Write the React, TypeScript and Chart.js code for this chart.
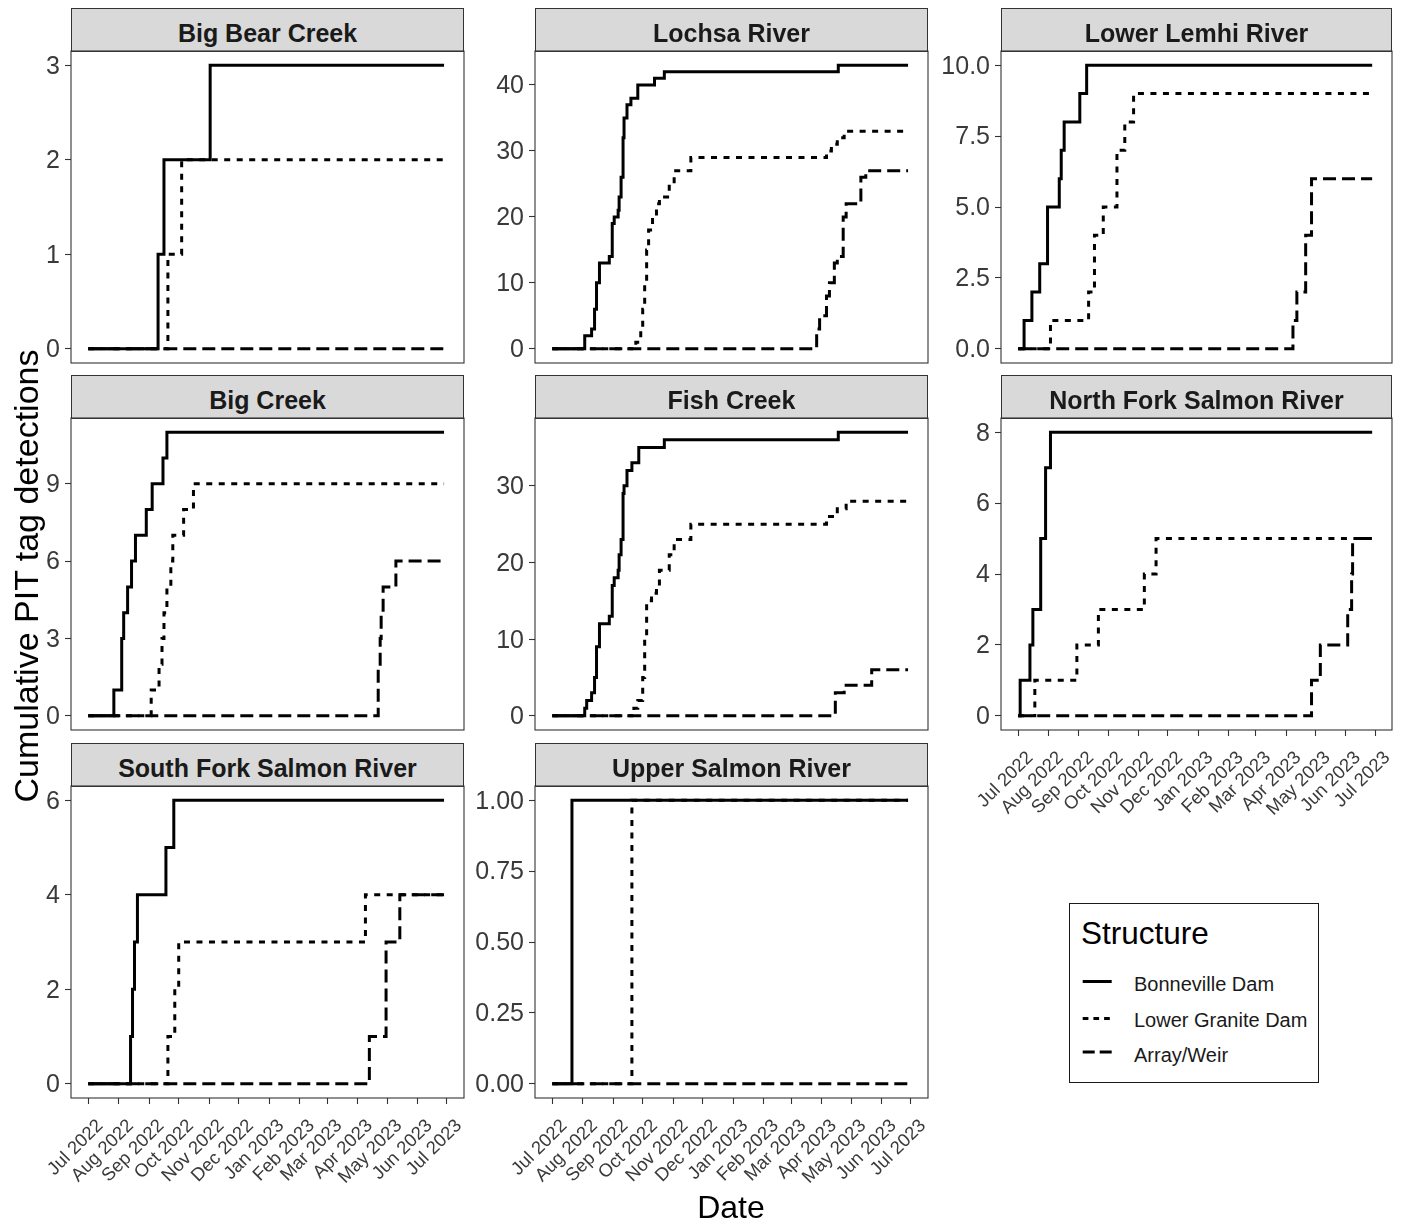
import React, { useEffect, useRef } from "react";
import { Chart, registerables } from "chart.js";

Chart.register(...registerables);

type Pt = [number, number];

const FONT = '"Liberation Sans", Arial, Helvetica, sans-serif';

// ---- X axis (days since 1 Jul 2022) ----
const MONTH_DAYS = [0, 31, 62, 92, 123, 153, 184, 215, 243, 274, 304, 335, 365];
const MONTH_LABELS = [
  "Jul 2022", "Aug 2022", "Sep 2022", "Oct 2022", "Nov 2022", "Dec 2022",
  "Jan 2023", "Feb 2023", "Mar 2023", "Apr 2023", "May 2023", "Jun 2023", "Jul 2023",
];
const X_MIN = -17.6;
const X_MAX = 382.3;

const SERIES_NAMES = ["Bonneville Dam", "Lower Granite Dam", "Array/Weir"];

// ---- Data: [day, cumulative detections] ----
const BIG_BEAR_BON: Pt[] = [[0, 0], [71, 1], [77, 2], [124, 3], [362, 3]];
const BIG_BEAR_LGR: Pt[] = [[0, 0], [81, 1], [95, 2], [362, 2]];
const BIG_BEAR_ARR: Pt[] = [[0, 0], [362, 0]];

const LOCHSA_BON: Pt[] = [[0, 0], [33, 2], [40, 3], [43, 6], [45, 10], [48, 13], [58, 14], [61, 19], [63, 20], [67, 21], [68, 23], [70, 26], [72, 32], [73, 35], [76, 37], [80, 38], [87, 40], [104, 41], [114, 42], [291, 43], [362, 43]];
const LOCHSA_LGR: Pt[] = [[0, 0], [85, 1], [90, 3], [92, 6], [94, 10], [96, 15], [98, 18], [102, 20], [106, 22], [109, 23], [119, 25], [124, 27], [141, 29], [279, 30], [284, 31], [290, 32], [297, 33], [362, 33]];
const LOCHSA_ARR: Pt[] = [[0, 0], [269, 3], [272, 5], [279, 8], [282, 10], [287, 13], [290, 14], [296, 20], [299, 22], [314, 26], [319, 27], [362, 27]];

const LEMHI_BON: Pt[] = [[0, 0], [6, 1], [14, 2], [22, 3], [30, 5], [42, 6], [44, 7], [47, 8], [63, 9], [70, 10], [362, 10]];
const LEMHI_LGR: Pt[] = [[0, 0], [33, 1], [72, 2], [78, 4], [87, 5], [101, 7], [109, 8], [118, 9], [362, 9]];
const LEMHI_ARR: Pt[] = [[0, 0], [281, 1], [285, 2], [294, 4], [300, 6], [362, 6]];

const BIG_CREEK_BON: Pt[] = [[0, 0], [26, 1], [34, 3], [36, 4], [40, 5], [44, 6], [48, 7], [59, 8], [65, 9], [76, 10], [80, 11], [362, 11]];
const BIG_CREEK_LGR: Pt[] = [[0, 0], [64, 1], [72, 2], [75, 3], [77, 4], [80, 5], [84, 6], [86, 7], [97, 8], [107, 9], [362, 9]];
const BIG_CREEK_ARR: Pt[] = [[0, 0], [295, 2], [297, 3], [298, 4], [300, 5], [313, 6], [362, 6]];

const FISH_BON: Pt[] = [[0, 0], [33, 1], [35, 2], [40, 3], [43, 5], [45, 9], [48, 12], [58, 13], [61, 17], [63, 18], [67, 19], [68, 21], [70, 23], [72, 29], [73, 30], [76, 32], [81, 33], [88, 35], [114, 36], [291, 37], [362, 37]];
const FISH_LGR: Pt[] = [[0, 0], [83, 1], [87, 2], [92, 5], [94, 10], [96, 15], [101, 16], [106, 17], [109, 19], [119, 21], [124, 23], [141, 25], [279, 26], [290, 27], [299, 28], [362, 28]];
const FISH_ARR: Pt[] = [[0, 0], [288, 3], [297, 4], [325, 6], [362, 6]];

const NORTH_FORK_BON: Pt[] = [[0, 0], [2, 1], [12, 2], [15, 3], [23, 5], [28, 7], [33, 8], [362, 8]];
const NORTH_FORK_LGR: Pt[] = [[0, 0], [17, 1], [60, 2], [82, 3], [129, 4], [141, 5], [362, 5]];
const NORTH_FORK_ARR: Pt[] = [[0, 0], [300, 1], [309, 2], [337, 3], [341, 4], [342, 5], [362, 5]];

const SOUTH_FORK_BON: Pt[] = [[0, 0], [43, 1], [45, 2], [47, 3], [50, 4], [79, 5], [87, 6], [362, 6]];
const SOUTH_FORK_LGR: Pt[] = [[0, 0], [81, 1], [88, 2], [92, 3], [282, 4], [362, 4]];
const SOUTH_FORK_ARR: Pt[] = [[0, 0], [286, 1], [303, 3], [317, 4], [362, 4]];

const UPPER_SALMON_BON: Pt[] = [[0, 0], [20, 1], [362, 1]];
const UPPER_SALMON_LGR: Pt[] = [[0, 0], [81, 1], [362, 1]];
const UPPER_SALMON_ARR: Pt[] = [[0, 0], [362, 0]];

// ---- Y ticks ----
const BIG_BEAR_Y_TICKS = [0, 1, 2, 3];
const BIG_BEAR_Y_LABELS = ["0", "1", "2", "3"];
const LOCHSA_Y_TICKS = [0, 10, 20, 30, 40];
const LOCHSA_Y_LABELS = ["0", "10", "20", "30", "40"];
const LEMHI_Y_TICKS = [0, 2.5, 5, 7.5, 10];
const LEMHI_Y_LABELS = ["0.0", "2.5", "5.0", "7.5", "10.0"];
const BIG_CREEK_Y_TICKS = [0, 3, 6, 9];
const BIG_CREEK_Y_LABELS = ["0", "3", "6", "9"];
const FISH_Y_TICKS = [0, 10, 20, 30];
const FISH_Y_LABELS = ["0", "10", "20", "30"];
const NORTH_FORK_Y_TICKS = [0, 2, 4, 6, 8];
const NORTH_FORK_Y_LABELS = ["0", "2", "4", "6", "8"];
const SOUTH_FORK_Y_TICKS = [0, 2, 4, 6];
const SOUTH_FORK_Y_LABELS = ["0", "2", "4", "6"];
const UPPER_SALMON_Y_TICKS = [0, 0.25, 0.5, 0.75, 1];
const UPPER_SALMON_Y_LABELS = ["0.00", "0.25", "0.50", "0.75", "1.00"];

interface PanelDef {
  title: string;
  row: number;
  col: number;
  series: Pt[][];
  yTicks: number[];
  yLabels: string[];
  showX: boolean;
}

const PANELS: PanelDef[] = [
  { title: "Big Bear Creek", row: 0, col: 0, series: [BIG_BEAR_BON, BIG_BEAR_LGR, BIG_BEAR_ARR], yTicks: BIG_BEAR_Y_TICKS, yLabels: BIG_BEAR_Y_LABELS, showX: false },
  { title: "Lochsa River", row: 0, col: 1, series: [LOCHSA_BON, LOCHSA_LGR, LOCHSA_ARR], yTicks: LOCHSA_Y_TICKS, yLabels: LOCHSA_Y_LABELS, showX: false },
  { title: "Lower Lemhi River", row: 0, col: 2, series: [LEMHI_BON, LEMHI_LGR, LEMHI_ARR], yTicks: LEMHI_Y_TICKS, yLabels: LEMHI_Y_LABELS, showX: false },
  { title: "Big Creek", row: 1, col: 0, series: [BIG_CREEK_BON, BIG_CREEK_LGR, BIG_CREEK_ARR], yTicks: BIG_CREEK_Y_TICKS, yLabels: BIG_CREEK_Y_LABELS, showX: false },
  { title: "Fish Creek", row: 1, col: 1, series: [FISH_BON, FISH_LGR, FISH_ARR], yTicks: FISH_Y_TICKS, yLabels: FISH_Y_LABELS, showX: false },
  { title: "North Fork Salmon River", row: 1, col: 2, series: [NORTH_FORK_BON, NORTH_FORK_LGR, NORTH_FORK_ARR], yTicks: NORTH_FORK_Y_TICKS, yLabels: NORTH_FORK_Y_LABELS, showX: true },
  { title: "South Fork Salmon River", row: 2, col: 0, series: [SOUTH_FORK_BON, SOUTH_FORK_LGR, SOUTH_FORK_ARR], yTicks: SOUTH_FORK_Y_TICKS, yLabels: SOUTH_FORK_Y_LABELS, showX: true },
  { title: "Upper Salmon River", row: 2, col: 1, series: [UPPER_SALMON_BON, UPPER_SALMON_LGR, UPPER_SALMON_ARR], yTicks: UPPER_SALMON_Y_TICKS, yLabels: UPPER_SALMON_Y_LABELS, showX: true },
];

// ---- Layout ----
const COL_LEFT = [71, 535, 1001];
const COL_W = [393, 393, 391];
const ROW_TOP = [51, 418, 786];
const PLOT_H = 312;
const STRIP_H = 43;
const YW = 72;
const XH = 100;
const PAD_TOP = 1;
const PAD_RIGHT = 14;
const PAD_BOTTOM = 1;
const TICK_TEXT = "#3a3a3a";

const DASHES: number[][] = [[], [6, 6.5], [13, 6]];

const borderPlugin = {
  id: "panelBorder",
  afterDraw(chart: any) {
    const { ctx, chartArea } = chart;
    ctx.save();
    ctx.strokeStyle = "#333333";
    ctx.lineWidth = 1.1;
    ctx.setLineDash([]);
    ctx.strokeRect(chartArea.left, chartArea.top, chartArea.right - chartArea.left, chartArea.bottom - chartArea.top);
    ctx.restore();
  },
};

function Panel({ p }: { p: PanelDef }) {
  const ref = useRef<HTMLCanvasElement | null>(null);
  const plotLeft = COL_LEFT[p.col];
  const plotTop = ROW_TOP[p.row];
  const w = COL_W[p.col];
  const xh = p.showX ? XH : 0;
  const cw = YW + w + PAD_RIGHT;
  const ch = PAD_TOP + PLOT_H + xh + PAD_BOTTOM;

  useEffect(() => {
    if (!ref.current) return;
    let maxV = 0;
    p.series.forEach((s) => s.forEach(([, y]) => { if (y > maxV) maxV = y; }));
    const yMin = -0.05 * maxV;
    const yMax = maxV * 1.05;
    const tickGrid = {
      display: true,
      drawOnChartArea: false,
      drawTicks: true,
      tickLength: 6,
      tickWidth: 1.1,
      tickColor: "#333333",
    };
    const chart = new Chart(ref.current, {
      type: "line",
      data: {
        datasets: p.series.map((s, i) => ({
          label: SERIES_NAMES[i],
          data: s.map(([x, y]) => ({ x, y })),
          stepped: true,
          borderColor: "#000000",
          backgroundColor: "#000000",
          borderWidth: 3,
          borderDash: DASHES[i],
          borderCapStyle: "butt",
          pointRadius: 0,
          fill: false,
          tension: 0,
        })),
      },
      options: {
        responsive: false,
        animation: false,
        events: [],
        layout: { autoPadding: false, padding: { top: PAD_TOP, right: PAD_RIGHT, bottom: PAD_BOTTOM, left: 0 } },
        plugins: { legend: { display: false }, tooltip: { enabled: false } },
        scales: {
          x: {
            type: "linear",
            min: X_MIN,
            max: X_MAX,
            display: p.showX,
            afterBuildTicks: (s: any) => { s.ticks = MONTH_DAYS.map((v) => ({ value: v })); },
            afterFit: (s: any) => { s.height = xh; s.paddingLeft = 0; s.paddingRight = 0; },
            ticks: {
              autoSkip: false,
              minRotation: 45,
              maxRotation: 45,
              labelOffset: 12,
              padding: 11,
              color: TICK_TEXT,
              font: { size: 18.5, family: FONT },
              callback: (_v: any, i: number) => MONTH_LABELS[i],
            },
            grid: tickGrid,
            border: { display: false },
          },
          y: {
            type: "linear",
            min: yMin,
            max: yMax,
            afterBuildTicks: (s: any) => { s.ticks = p.yTicks.map((v) => ({ value: v })); },
            afterFit: (s: any) => { s.width = YW; s.paddingTop = 0; s.paddingBottom = 0; },
            ticks: {
              padding: 5,
              labelOffset: 1.5,
              color: TICK_TEXT,
              font: { size: 25, family: FONT },
              callback: (_v: any, i: number) => p.yLabels[i],
            },
            grid: tickGrid,
            border: { display: false },
          },
        },
      } as any,
      plugins: [borderPlugin],
    });
    return () => chart.destroy();
  }, []);

  return (
    <>
      <div
        style={{
          position: "absolute",
          left: plotLeft,
          top: plotTop - STRIP_H,
          width: w,
          height: STRIP_H + 1,
          boxSizing: "border-box",
          background: "#d9d9d9",
          border: "1.1px solid #333333",
        }}
      >
        <div
          style={{
            position: "absolute",
            left: 0,
            right: 0,
            top: 11.5,
            textAlign: "center",
            fontSize: 25,
            lineHeight: "25px",
            fontWeight: "bold",
            color: "#1a1a1a",
            whiteSpace: "nowrap",
          }}
        >
          {p.title}
        </div>
      </div>
      <canvas
        ref={ref}
        width={cw}
        height={ch}
        style={{ position: "absolute", left: plotLeft - YW, top: plotTop - PAD_TOP, width: cw, height: ch }}
      />
    </>
  );
}

function Legend() {
  const L = 1069;
  const T = 903;
  const keyY = [981.5, 1018.5, 1052];
  const labelTop = [974, 1009.7, 1045.2];
  const svgDash = ["", "5.7 5", "12 5"];
  return (
    <>
      <div
        style={{
          position: "absolute",
          left: L,
          top: T,
          width: 250,
          height: 180,
          boxSizing: "border-box",
          border: "1.3px solid #1a1a1a",
          background: "#ffffff",
        }}
      />
      <div style={{ position: "absolute", left: 1081, top: 917.5, fontSize: 31.5, lineHeight: "31.5px", color: "#000", whiteSpace: "nowrap" }}>
        Structure
      </div>
      <svg style={{ position: "absolute", left: 1080, top: 970, overflow: "visible" }} width={40} height={100}>
        {keyY.map((y, i) => (
          <line
            key={i}
            x1={2.7}
            x2={31.7}
            y1={y - 970}
            y2={y - 970}
            stroke="#000"
            strokeWidth={3}
            strokeDasharray={svgDash[i] || undefined}
          />
        ))}
      </svg>
      {SERIES_NAMES.map((n, i) => (
        <div
          key={n}
          style={{ position: "absolute", left: 1134, top: labelTop[i], fontSize: 20, lineHeight: "20px", color: "#1a1a1a", whiteSpace: "nowrap" }}
        >
          {n}
        </div>
      ))}
    </>
  );
}

export default function App() {
  return (
    <div
      style={{
        position: "absolute",
        left: 0,
        top: 0,
        width: 1414,
        height: 1226,
        background: "#ffffff",
        fontFamily: FONT,
        overflow: "hidden",
      }}
    >
      {PANELS.map((p) => (
        <Panel key={p.title} p={p} />
      ))}
      <div
        style={{
          position: "absolute",
          left: 25.5 - 300,
          top: 576 - 17,
          width: 600,
          height: 34,
          fontSize: 34,
          lineHeight: "34px",
          textAlign: "center",
          color: "#000",
          transform: "rotate(-90deg)",
          whiteSpace: "nowrap",
        }}
      >
        Cumulative PIT tag detections
      </div>
      <div
        style={{
          position: "absolute",
          left: 731 - 300,
          top: 1190.5,
          width: 600,
          height: 32,
          fontSize: 32,
          lineHeight: "32px",
          textAlign: "center",
          color: "#000",
          whiteSpace: "nowrap",
        }}
      >
        Date
      </div>
      <Legend />
    </div>
  );
}
